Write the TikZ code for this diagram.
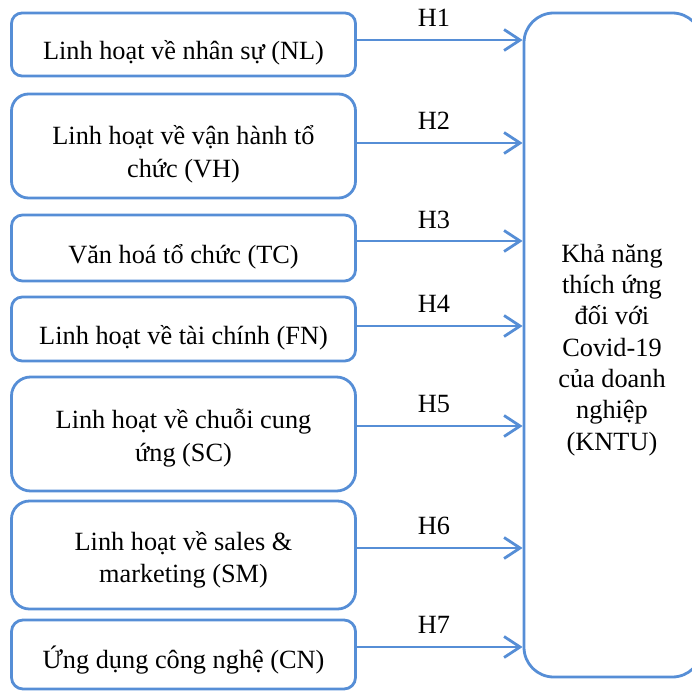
\documentclass[tikz,border=0pt]{standalone}
\usepackage{fontspec}
\setmainfont{Liberation Serif}
\usetikzlibrary{arrows.meta}
\definecolor{bl}{RGB}{86,142,214}
\begin{document}
\begin{tikzpicture}[x=1pt,y=-1pt,
  box/.style={draw=bl, line width=2.8pt, inner sep=0pt, minimum width=344pt},
  txt/.style={font=\fontsize{26.3}{32}\selectfont, anchor=base, inner sep=0pt},
  arr/.style={draw=bl, line width=2.8pt, -{Straight Barb[length=16pt,width=21pt]}}]
\path[use as bounding box, clip] (0,0) rectangle (692,690);
% left boxes
\node[box, rounded corners=10.5pt, minimum height=63pt] (b1) at (183.5,44.5) {};
\node[box, rounded corners=17pt, minimum height=104pt] (b2) at (183.5,146) {};
\node[box, rounded corners=11pt, minimum height=66pt] (b3) at (183.5,248) {};
\node[box, rounded corners=10.7pt, minimum height=64pt] (b4) at (183.5,329) {};
\node[box, rounded corners=19pt, minimum height=114pt] (b5) at (183.5,434) {};
\node[box, rounded corners=18pt, minimum height=108pt] (b6) at (183.5,555) {};
\node[box, rounded corners=11.5pt, minimum height=69pt] (b7) at (183.5,654.5) {};
% right box
\node[box, rounded corners=29.7pt, minimum width=178pt, minimum height=664pt] (K) at (613,345) {};
% texts
\node[txt] (t1) at (183.5,60) {Linh hoạt về nhân sự (NL)};
\node[txt] (t2a) at (183.5,144) {Linh hoạt về vận hành tổ};
\node[txt] (t2b) at (183.5,177) {chức (VH)};
\node[txt] (t3) at (183.5,263) {Văn hoá tổ chức (TC)};
\node[txt] (t4) at (183.5,344) {Linh hoạt về tài chính (FN)};
\node[txt] (t5a) at (183.5,428) {Linh hoạt về chuỗi cung};
\node[txt] (t5b) at (183.5,461) {ứng (SC)};
\node[txt] (t6a) at (183.5,550) {Linh hoạt về sales \&};
\node[txt] (t6b) at (183.5,582) {marketing (SM)};
\node[txt] (t7) at (183.5,668) {Ứng dụng công nghệ (CN)};
\node[txt] (k1) at (612,262) {Khả năng};
\node[txt] (k2) at (612,293.3) {thích ứng};
\node[txt] (k3) at (612,324.7) {đối với};
\node[txt] (k4) at (612,356) {Covid-19};
\node[txt] (k5) at (612,387.3) {của doanh};
\node[txt] (k6) at (612,418.7) {nghiệp};
\node[txt] (k7) at (612,450) {(KNTU)};
% arrows
\draw[arr] (b1.east |- 0,40) -- (K.west |- 0,40);
\draw[arr] (b2.east |- 0,143) -- (K.west |- 0,143);
\draw[arr] (b3.east |- 0,241) -- (K.west |- 0,241);
\draw[arr] (b4.east |- 0,326) -- (K.west |- 0,326);
\draw[arr] (b5.east |- 0,426) -- (K.west |- 0,426);
\draw[arr] (b6.east |- 0,548) -- (K.west |- 0,548);
\draw[arr] (b7.east |- 0,647) -- (K.west |- 0,647);
% labels
\node[txt] (h1) at (434,26.5) {H1};
\node[txt] (h2) at (434,129) {H2};
\node[txt] (h3) at (434,228) {H3};
\node[txt] (h4) at (434,312) {H4};
\node[txt] (h5) at (434,412) {H5};
\node[txt] (h6) at (434,534) {H6};
\node[txt] (h7) at (434,633) {H7};
\end{tikzpicture}
\end{document}
